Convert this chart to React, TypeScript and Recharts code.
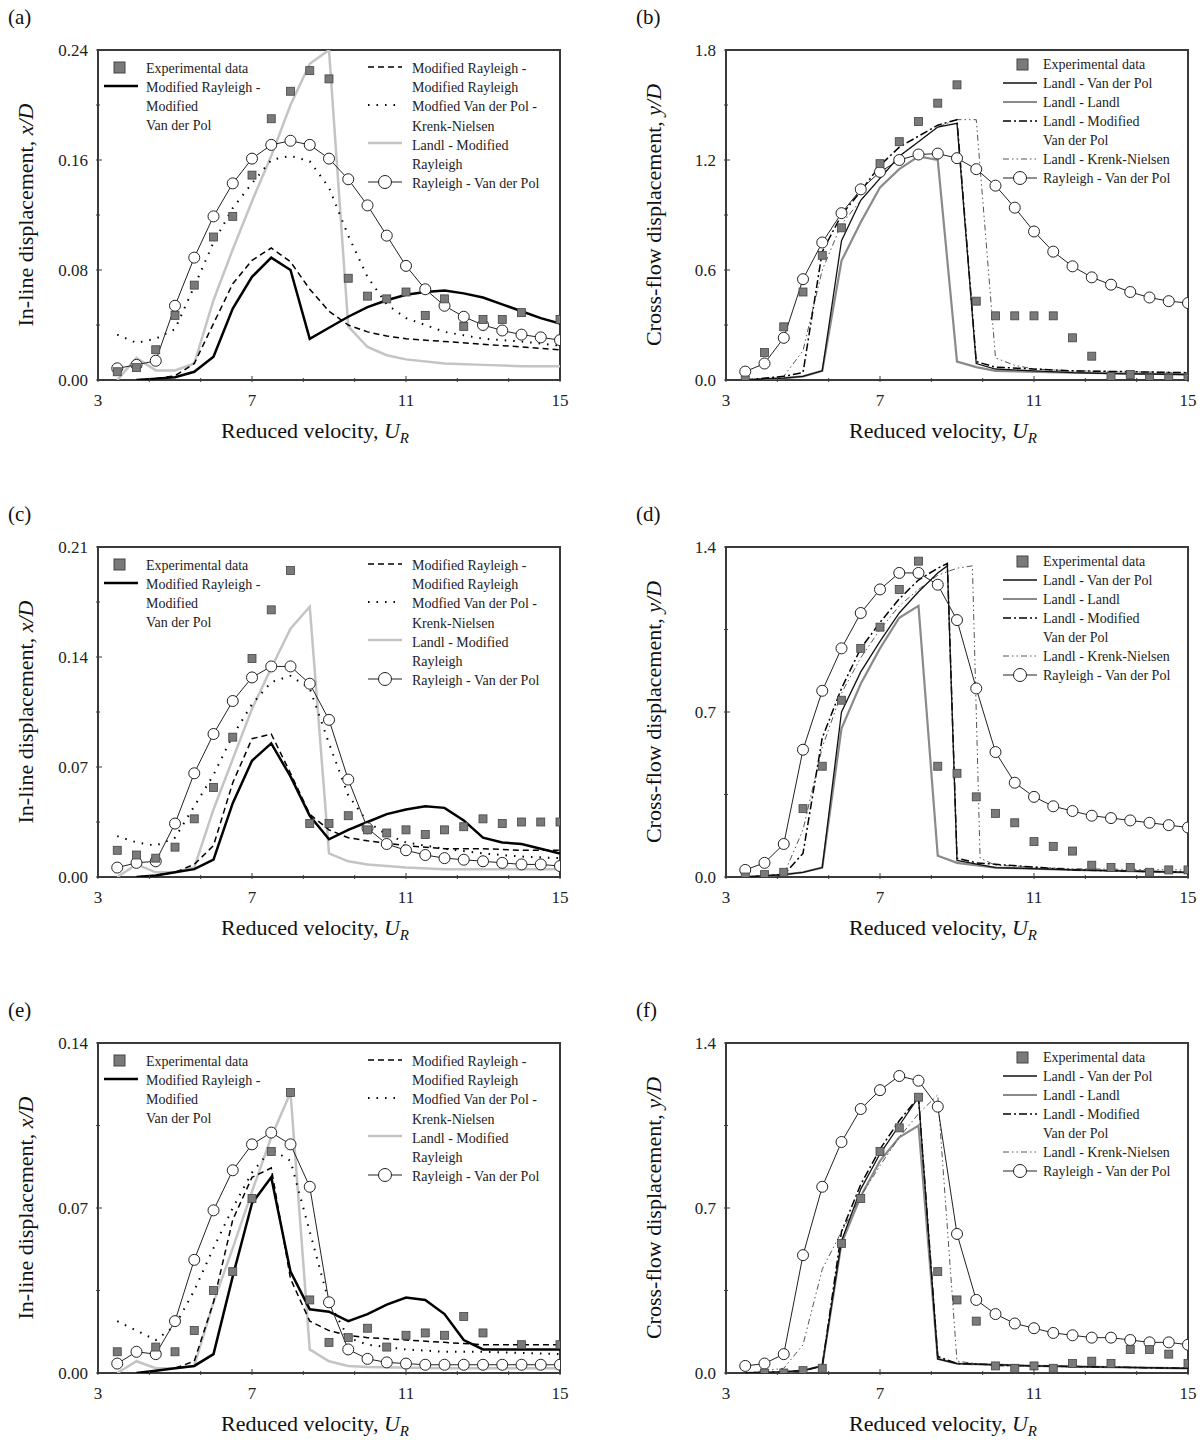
import React from "react";
import { ComposedChart, Line, Scatter, XAxis, YAxis } from "recharts";

type Pt = [number, number];

// ---------- panel (a) ----------
const aExp: Pt[] = [[3.5,0.006],[4,0.009],[4.5,0.022],[5,0.047],[5.5,0.069],[6,0.104],[6.5,0.119],[7,0.149],[7.5,0.19],[8,0.21],[8.5,0.225],[9,0.219],[9.5,0.074],[10,0.061],[10.5,0.059],[11,0.064],[11.5,0.047],[12,0.059],[12.5,0.039],[13,0.044],[13.5,0.044],[14,0.049],[15,0.044]];
const aMrMvdp: Pt[] = [[4,0],[4.5,0.001],[5,0.002],[5.5,0.006],[6,0.017],[6.5,0.052],[7,0.075],[7.5,0.089],[8,0.08],[8.5,0.03],[9,0.038],[9.5,0.046],[10,0.053],[10.5,0.058],[11,0.062],[11.5,0.064],[12,0.065],[12.5,0.063],[13,0.06],[13.5,0.055],[14,0.05],[14.5,0.045],[15,0.041]];
const aMrMr: Pt[] = [[4,0],[4.5,0.001],[5,0.003],[5.5,0.012],[6,0.041],[6.5,0.07],[7,0.087],[7.5,0.096],[8,0.086],[8.5,0.066],[9,0.05],[9.5,0.04],[10,0.035],[10.5,0.032],[11,0.03],[12,0.028],[13,0.026],[14,0.024],[15,0.022]];
const aMvKn: Pt[] = [[3.5,0.033],[4,0.027],[4.5,0.03],[5,0.037],[5.5,0.068],[6,0.1],[6.5,0.125],[7,0.143],[7.5,0.16],[8,0.163],[8.5,0.159],[9,0.14],[9.5,0.105],[10,0.075],[10.5,0.055],[11,0.045],[12,0.035],[13,0.03],[14,0.028],[15,0.025]];
const aLMr: Pt[] = [[3.5,0],[4,0.016],[4.5,0.007],[5,0.007],[5.5,0.012],[6,0.058],[6.5,0.095],[7,0.13],[7.5,0.163],[8,0.2],[8.5,0.23],[9,0.24],[9.5,0.039],[10,0.024],[10.5,0.018],[11,0.015],[12,0.012],[13,0.011],[14,0.01],[15,0.01]];
const aRVdp: Pt[] = [[3.5,0.0085],[4,0.011],[4.5,0.014],[5,0.054],[5.5,0.089],[6,0.119],[6.5,0.143],[7,0.161],[7.5,0.171],[8,0.174],[8.5,0.171],[9,0.161],[9.5,0.146],[10,0.127],[10.5,0.105],[11,0.083],[11.5,0.066],[12,0.054],[12.5,0.046],[13,0.04],[13.5,0.036],[14,0.033],[14.5,0.031],[15,0.029]];

// ---------- panel (c) ----------
const cExp: Pt[] = [[3.5,0.017],[4,0.014],[4.5,0.012],[5,0.019],[5.5,0.037],[6,0.057],[6.5,0.089],[7,0.139],[7.5,0.17],[8,0.195],[8.5,0.034],[9,0.034],[9.5,0.039],[10,0.03],[10.5,0.028],[11,0.03],[11.5,0.027],[12,0.03],[12.5,0.032],[13,0.037],[13.5,0.034],[14,0.035],[14.5,0.035],[15,0.035]];
const cMrMvdp: Pt[] = [[4,0],[4.5,0.001],[5,0.003],[5.5,0.005],[6,0.011],[6.5,0.047],[7,0.074],[7.5,0.085],[8,0.064],[8.5,0.039],[9,0.024],[9.5,0.03],[10,0.035],[10.5,0.04],[11,0.043],[11.5,0.045],[12,0.044],[12.5,0.036],[13,0.025],[13.5,0.022],[14,0.021],[14.5,0.018],[15,0.015]];
const cMrMr: Pt[] = [[4,0],[4.5,0.001],[5,0.003],[5.5,0.008],[6,0.02],[6.5,0.06],[7,0.088],[7.5,0.091],[8,0.066],[8.5,0.04],[9,0.03],[9.5,0.025],[10,0.023],[11,0.02],[12,0.018],[13,0.018],[14,0.017],[15,0.017]];
const cMvKn: Pt[] = [[3.5,0.026],[4,0.022],[4.5,0.02],[5,0.025],[5.5,0.045],[6,0.065],[6.5,0.09],[7,0.11],[7.5,0.124],[8,0.128],[8.5,0.12],[9,0.085],[9.5,0.052],[10,0.035],[10.5,0.027],[11,0.022],[12,0.018],[13,0.015],[14,0.013],[15,0.012]];
const cLMr: Pt[] = [[3.5,0],[4,0.008],[4.5,0.003],[5,0.003],[5.5,0.006],[6,0.043],[6.5,0.075],[7,0.107],[7.5,0.133],[8,0.158],[8.5,0.172],[9,0.015],[9.5,0.01],[10,0.008],[11,0.006],[12,0.005],[13,0.005],[15,0.005]];
const cRVdp: Pt[] = [[3.5,0.006],[4,0.009],[4.5,0.01],[5,0.034],[5.5,0.066],[6,0.091],[6.5,0.112],[7,0.127],[7.5,0.134],[8,0.134],[8.5,0.123],[9,0.1],[9.5,0.062],[10,0.031],[10.5,0.021],[11,0.017],[11.5,0.014],[12,0.012],[12.5,0.011],[13,0.01],[13.5,0.009],[14,0.008],[14.5,0.008],[15,0.007]];

// ---------- panel (e) ----------
const eExp: Pt[] = [[3.5,0.009],[4.5,0.011],[5,0.009],[5.5,0.018],[6,0.035],[6.5,0.043],[7,0.074],[7.5,0.094],[8,0.119],[8.5,0.031],[9,0.013],[9.5,0.015],[10,0.019],[10.5,0.011],[11,0.016],[11.5,0.017],[12,0.016],[12.5,0.024],[13,0.017],[14,0.012],[15,0.012]];
const eMrMvdp: Pt[] = [[4,0],[4.5,0.001],[5,0.002],[5.5,0.003],[6,0.008],[6.5,0.041],[7,0.072],[7.5,0.083],[8,0.043],[8.5,0.027],[9,0.026],[9.5,0.022],[10,0.025],[10.5,0.029],[11,0.032],[11.5,0.031],[12,0.025],[12.5,0.014],[13,0.01],[14,0.01],[15,0.01]];
const eMrMr: Pt[] = [[4.5,0.001],[5,0.002],[5.5,0.005],[6,0.03],[6.5,0.065],[7,0.083],[7.5,0.087],[8,0.04],[8.5,0.022],[9,0.018],[9.5,0.016],[10,0.015],[11,0.014],[12,0.013],[13,0.012],[15,0.012]];
const eMvKn: Pt[] = [[3.5,0.022],[4,0.018],[4.5,0.014],[5,0.02],[5.5,0.035],[6,0.053],[6.5,0.07],[7,0.085],[7.5,0.095],[8,0.09],[8.5,0.06],[9,0.03],[9.5,0.015],[10,0.012],[11,0.01],[12,0.009],[13,0.009],[15,0.008]];
const eLMr: Pt[] = [[3.5,0],[4,0.005],[4.5,0.002],[5,0.002],[5.5,0.003],[6,0.03],[6.5,0.053],[7,0.077],[7.5,0.1],[8,0.119],[8.5,0.01],[9,0.005],[9.5,0.003],[10,0.0025],[12,0.002],[15,0.002]];
const eRVdp: Pt[] = [[3.5,0.004],[4,0.009],[4.5,0.008],[5,0.022],[5.5,0.048],[6,0.069],[6.5,0.086],[7,0.097],[7.5,0.102],[8,0.097],[8.5,0.079],[9,0.03],[9.5,0.01],[10,0.006],[10.5,0.0045],[11,0.004],[11.5,0.0035],[12,0.0035],[12.5,0.0035],[13,0.0035],[13.5,0.0035],[14,0.0035],[14.5,0.0035],[15,0.0035]];

// ---------- panel (b) ----------
const bExp: Pt[] = [[3.5,0],[4,0.15],[4.5,0.29],[5,0.48],[5.5,0.68],[6,0.83],[7,1.18],[7.5,1.3],[8,1.41],[8.5,1.51],[9,1.61],[9.5,0.43],[10,0.35],[10.5,0.35],[11,0.35],[11.5,0.35],[12,0.23],[12.5,0.13],[13,0.02],[13.5,0.03],[14,0.01],[14.5,0.01],[15,0.01]];
const bLVdp: Pt[] = [[3.5,0],[4.5,0.01],[5,0.02],[5.5,0.05],[6,0.76],[6.5,0.98],[7,1.1],[7.5,1.22],[8,1.3],[8.5,1.38],[9,1.4],[9.5,0.09],[10,0.06],[11,0.05],[12,0.04],[13,0.035],[15,0.03]];
const bLL: Pt[] = [[3.5,0],[4.5,0.01],[5,0.02],[5.5,0.05],[6,0.65],[6.5,0.86],[7,1.05],[7.5,1.15],[8,1.22],[8.5,1.2],[9,0.1],[9.5,0.07],[10,0.05],[12,0.04],[15,0.03]];
const bLMvdp: Pt[] = [[3.5,0],[4.5,0.02],[5,0.04],[5.5,0.7],[6,0.9],[6.5,1.03],[7,1.17],[7.5,1.27],[8,1.33],[8.5,1.39],[9,1.42],[9.5,0.1],[10,0.07],[12,0.05],[15,0.04]];
const bLKn: Pt[] = [[3.5,0],[4.5,0.02],[5,0.16],[5.5,0.6],[6,0.85],[6.5,0.98],[7,1.1],[7.5,1.22],[8,1.3],[8.5,1.38],[9,1.42],[9.5,1.42],[10,0.12],[10.5,0.08],[11,0.06],[12,0.05],[15,0.04]];
const bRVdp: Pt[] = [[3.5,0.046],[4,0.09],[4.5,0.23],[5,0.55],[5.5,0.75],[6,0.91],[6.5,1.04],[7,1.135],[7.5,1.2],[8,1.23],[8.5,1.235],[9,1.21],[9.5,1.15],[10,1.06],[10.5,0.94],[11,0.81],[11.5,0.7],[12,0.62],[12.5,0.56],[13,0.52],[13.5,0.48],[14,0.45],[14.5,0.43],[15,0.42]];

// ---------- panel (d) ----------
const dExp: Pt[] = [[3.5,0],[4,0.01],[4.5,0.02],[5,0.29],[5.5,0.47],[6,0.75],[6.5,0.97],[7,1.06],[7.5,1.22],[8,1.34],[8.5,0.47],[9,0.44],[9.5,0.34],[10,0.27],[10.5,0.23],[11,0.15],[11.5,0.13],[12,0.11],[12.5,0.05],[13,0.04],[13.5,0.04],[14,0.02],[14.5,0.03],[15,0.03]];
const dLVdp: Pt[] = [[3.5,0],[4.5,0.01],[5,0.02],[5.5,0.04],[6,0.7],[6.5,0.87],[7,1.0],[7.5,1.12],[8,1.21],[8.5,1.29],[8.75,1.32],[9,0.07],[10,0.04],[12,0.03],[15,0.02]];
const dLL: Pt[] = [[3.5,0],[4.5,0.01],[5,0.02],[5.5,0.04],[6,0.63],[6.5,0.82],[7,0.97],[7.5,1.1],[8,1.15],[8.5,0.09],[9,0.06],[10,0.04],[12,0.03],[15,0.02]];
const dLMvdp: Pt[] = [[3.5,0],[4.5,0.01],[5,0.1],[5.5,0.59],[6,0.8],[6.5,0.97],[7,1.08],[7.5,1.18],[8,1.26],[8.5,1.31],[8.75,1.33],[9,0.08],[9.5,0.06],[12,0.03],[15,0.02]];
const dLKn: Pt[] = [[3.5,0],[4.5,0.01],[5,0.2],[5.5,0.55],[6,0.78],[6.5,0.93],[7,1.05],[7.5,1.15],[8,1.22],[8.5,1.28],[9,1.31],[9.4,1.32],[9.6,0.08],[10,0.05],[12,0.035],[15,0.03]];
const dRVdp: Pt[] = [[3.5,0.03],[4,0.06],[4.5,0.14],[5,0.54],[5.5,0.79],[6,0.97],[6.5,1.12],[7,1.22],[7.5,1.29],[8,1.29],[8.5,1.24],[9,1.09],[9.5,0.8],[10,0.53],[10.5,0.4],[11,0.34],[11.5,0.3],[12,0.28],[12.5,0.26],[13,0.25],[13.5,0.24],[14,0.23],[14.5,0.22],[15,0.21]];

// ---------- panel (f) ----------
const fExp: Pt[] = [[4,0],[4.5,0],[5,0.01],[5.5,0.02],[6,0.55],[6.5,0.74],[7,0.94],[7.5,1.04],[8,1.17],[8.5,0.43],[9,0.31],[9.5,0.22],[10,0.03],[10.5,0.02],[11,0.03],[11.5,0.02],[12,0.04],[12.5,0.05],[13,0.04],[13.5,0.1],[14,0.1],[14.5,0.08],[15,0.04]];
const fLVdp: Pt[] = [[3.5,0],[4.5,0.005],[5,0.01],[5.5,0.03],[6,0.56],[6.5,0.78],[7,0.93],[7.5,1.05],[8,1.17],[8.5,0.06],[9,0.04],[11,0.03],[15,0.02]];
const fLL: Pt[] = [[3.5,0],[4.5,0.005],[5,0.01],[5.5,0.03],[6,0.55],[6.5,0.75],[7,0.9],[7.5,1.0],[8,1.05],[8.5,0.06],[9,0.04],[11,0.03],[15,0.02]];
const fLMvdp: Pt[] = [[3.5,0],[4.5,0.005],[5,0.01],[5.5,0.03],[6,0.6],[6.5,0.8],[7,0.95],[7.5,1.07],[8,1.17],[8.5,0.07],[9,0.04],[11,0.03],[15,0.02]];
const fLKn: Pt[] = [[3.5,0],[4.5,0.02],[5,0.12],[5.5,0.44],[6,0.6],[6.5,0.75],[7,0.88],[7.5,1.0],[8,1.1],[8.5,1.18],[9,0.05],[10,0.03],[15,0.02]];
const fRVdp: Pt[] = [[3.5,0.03],[4,0.04],[4.5,0.08],[5,0.5],[5.5,0.79],[6,0.98],[6.5,1.12],[7,1.2],[7.5,1.26],[8,1.24],[8.5,1.13],[9,0.59],[9.5,0.31],[10,0.25],[10.5,0.21],[11,0.19],[11.5,0.17],[12,0.16],[12.5,0.15],[13,0.15],[13.5,0.14],[14,0.13],[14.5,0.13],[15,0.12]];

const xTicks = [3, 4.333, 5.667, 7, 8.333, 9.667, 11, 12.333, 13.667, 15];
const xMajor = [3, 7, 11, 15];

const leftLegend = ["Modified Rayleigh -", "Modified Rayleigh", "Modfied Van der Pol -", "Krenk-Nielsen", "Landl - Modified", "Rayleigh", "Rayleigh - Van der Pol"];
const rightLegend = ["Experimental data", "Landl - Van der Pol", "Landl - Landl", "Landl - Modified", "Van der Pol", "Landl - Krenk-Nielsen", "Rayleigh - Van der Pol"];

const FONT = "'Liberation Serif', 'DejaVu Serif', serif";
const pts = (a: Pt[]) => a.map(([u, v]) => ({ u, v }));
const FRAME = "#3a3a3a";

const Square = (p: any) => (
  <rect x={p.cx - 4} y={p.cy - 4} width={8} height={8} fill="#7a7a7a" stroke="#444" strokeWidth={0.8} />
);
const OpenDot = (p: any) =>
  p.cx == null ? <g key={p.index} /> : <circle key={p.index} cx={p.cx} cy={p.cy} r={5.5} fill="#fff" stroke="#222" strokeWidth={1} />;

function XTick(p: any) {
  const v = p.payload.value;
  const major = xMajor.some((m) => Math.abs(m - v) < 0.01);
  return (
    <g>
      <line x1={p.x} x2={p.x} y1={p.y} y2={p.y - (major ? 6 : 4)} stroke={FRAME} />
      {major && (
        <text x={p.x} y={p.y + 24} textAnchor="middle" fontSize={17} fontFamily={FONT} fill="#222">
          {v}
        </text>
      )}
    </g>
  );
}

function makeYTick(major: number[], digits: number) {
  return (p: any) => {
    const v = p.payload.value;
    const isMajor = major.some((m) => Math.abs(m - v) < 1e-6);
    return (
      <g>
        <line x1={p.x} x2={p.x + (isMajor ? 6 : 4)} y1={p.y} y2={p.y} stroke={FRAME} />
        {isMajor && (
          <text x={p.x - 8} y={p.y + 6} textAnchor="end" fontSize={17} fontFamily={FONT} fill="#222">
            {v.toFixed(digits)}
          </text>
        )}
      </g>
    );
  };
}

type Series = { data: Pt[]; stroke: string; width: number; dash?: string; dots?: boolean };

function Panel(props: {
  left: number; top: number; max: number; major: number[]; minor: number[]; digits: number;
  exp: Pt[]; series: Series[];
}) {
  const YT = makeYTick(props.major, props.digits);
  return (
    <div style={{ position: "absolute", left: props.left, top: props.top, width: 580, height: 380 }}>
      {/* plot frame */}
      <div style={{ position: "absolute", left: 97, top: 19, width: 464, height: 332, boxSizing: "border-box",
        border: `2px solid ${FRAME}` }} />
      <div style={{ position: "absolute", left: 0, top: 0 }}>
        <ComposedChart width={580} height={380} margin={{ top: 20, right: 20, bottom: 0, left: 48 }}>
          <XAxis dataKey="u" type="number" domain={[3, 15]} ticks={xTicks} allowDataOverflow
            axisLine={false} tickLine={false} tickSize={0} height={30} tick={<XTick />} interval={0} />
          <YAxis dataKey="v" type="number" domain={[0, props.max]} ticks={props.minor} allowDataOverflow width={50}
            axisLine={false} tickLine={false} tickSize={0} tick={<YT />} interval={0} />
          {props.series.map((s, i) => (
            <Line key={i} data={pts(s.data)} dataKey="v" type="linear" stroke={s.stroke} strokeWidth={s.width}
              strokeDasharray={s.dash} dot={s.dots ? <OpenDot /> : false} activeDot={false} isAnimationActive={false} />
          ))}
          <Scatter data={pts(props.exp)} dataKey="v" shape={<Square />} isAnimationActive={false} />
        </ComposedChart>
      </div>
    </div>
  );
}

const S_BOLD = { stroke: "#000", width: 2.5 };
const S_DASH = { stroke: "#000", width: 1.5, dash: "6 4" };
const S_DOT = { stroke: "#000", width: 2, dash: "1.5 7" };
const S_GREY = { stroke: "#c4c4c4", width: 2.5 };
const S_CIRC = { stroke: "#222", width: 1, dots: true };
const R_VDP = { stroke: "#111", width: 1.3 };
const R_LL = { stroke: "#8a8a8a", width: 2.2 };
const R_MV = { stroke: "#000", width: 1.5, dash: "8 3 2 3" };
const R_KN = { stroke: "#555", width: 1, dash: "6 3 1.5 3 1.5 3" };

function LeftLegend({ left, top }: { left: number; top: number }) {
  const t = { fontSize: 14, fontFamily: FONT, fill: "#222" };
  return (
    <svg style={{ position: "absolute", left, top }} width={470} height={140}>
      <rect x={16} y={6} width={11} height={11} fill="#7a7a7a" stroke="#444" />
      <text x={48} y={17} {...t}>Experimental data</text>
      <line x1={6} x2={40} y1={30} y2={30} stroke="#000" strokeWidth={2.5} />
      {["Modified Rayleigh -", "Modified", "Van der Pol"].map((s, i) => (
        <text key={s} x={48} y={36 + i * 19} {...t}>{s}</text>
      ))}
      <line x1={270} x2={304} y1={11} y2={11} stroke="#000" strokeWidth={1.5} strokeDasharray="6 4" />
      <line x1={270} x2={304} y1={49} y2={49} stroke="#000" strokeWidth={2} strokeDasharray="1.5 7" />
      <line x1={270} x2={304} y1={87} y2={87} stroke="#c4c4c4" strokeWidth={2.5} />
      <line x1={270} x2={304} y1={126} y2={126} stroke="#222" strokeWidth={1} />
      <circle cx={287} cy={126} r={6.5} fill="#fff" stroke="#222" />
      {leftLegend.map((s, i) => (
        <text key={i} x={314} y={17 + i * 19.2} {...t}>{s}</text>
      ))}
    </svg>
  );
}

function RightLegend({ left, top }: { left: number; top: number }) {
  const t = { fontSize: 14, fontFamily: FONT, fill: "#222" };
  const samples: (Series | null)[] = [null, R_VDP, R_LL, R_MV, null, R_KN, S_CIRC];
  return (
    <svg style={{ position: "absolute", left, top }} width={200} height={140}>
      <rect x={14} y={3} width={11} height={11} fill="#7a7a7a" stroke="#444" />
      {samples.map((s, i) =>
        s ? <line key={i} x1={0} x2={34} y1={8 + i * 19} y2={8 + i * 19} stroke={s.stroke} strokeWidth={s.width} strokeDasharray={s.dash} /> : null
      )}
      <circle cx={17} cy={122} r={6.5} fill="#fff" stroke="#222" />
      {rightLegend.map((s, i) => (
        <text key={i} x={40} y={13 + i * 19} {...t}>{s}</text>
      ))}
    </svg>
  );
}

function Labels({ left, top, tag, yl, yv }: { left: number; top: number; tag: string; yl: string; yv: string }) {
  const big = { position: "absolute" as const, fontFamily: FONT, fontSize: 22, color: "#111", whiteSpace: "nowrap" as const };
  return (
    <>
      <div style={{ ...big, left: left - 90, top: top - 45, fontSize: 21 }}>{tag}</div>
      <div style={{ ...big, left: left + 123, top: top + 368 }}>
        Reduced velocity, <i>U</i><sub style={{ fontSize: 15 }}><i>R</i></sub>
      </div>
      <div style={{ ...big, left: left - 72, top: top + 165, transform: "translate(-50%, -50%) rotate(-90deg)" }}>
        {yl}, <i>{yv}</i>
      </div>
    </>
  );
}

export default function App() {
  const rows = [30, 527, 1023];
  const leftTicks = [
    { max: 0.24, major: [0, 0.08, 0.16, 0.24], minor: [0, 0.04, 0.08, 0.12, 0.16, 0.2, 0.24] },
    { max: 0.21, major: [0, 0.07, 0.14, 0.21], minor: [0, 0.035, 0.07, 0.105, 0.14, 0.175, 0.21] },
    { max: 0.14, major: [0, 0.07, 0.14], minor: [0, 0.035, 0.07, 0.105, 0.14] },
  ];
  const rightTicks = [
    { max: 1.8, major: [0, 0.6, 1.2, 1.8], minor: [0, 0.3, 0.6, 0.9, 1.2, 1.5, 1.8] },
    { max: 1.4, major: [0, 0.7, 1.4], minor: [0, 0.35, 0.7, 1.05, 1.4] },
    { max: 1.4, major: [0, 0.7, 1.4], minor: [0, 0.35, 0.7, 1.05, 1.4] },
  ];
  const leftData = [
    [aExp, aMrMvdp, aMrMr, aMvKn, aLMr, aRVdp],
    [cExp, cMrMvdp, cMrMr, cMvKn, cLMr, cRVdp],
    [eExp, eMrMvdp, eMrMr, eMvKn, eLMr, eRVdp],
  ];
  const rightData = [
    [bExp, bLVdp, bLL, bLMvdp, bLKn, bRVdp],
    [dExp, dLVdp, dLL, dLMvdp, dLKn, dRVdp],
    [fExp, fLVdp, fLL, fLMvdp, fLKn, fRVdp],
  ];
  const tagsL = ["(a)", "(c)", "(e)"];
  const tagsR = ["(b)", "(d)", "(f)"];
  return (
    <div style={{ position: "absolute", left: 0, top: 0, width: 1204, height: 1447, background: "#fff" }}>
      {rows.map((top, r) => {
        const [e, m1, m2, m3, m4, m5] = leftData[r];
        const [re, r1, r2, r3, r4, r5] = rightData[r];
        return (
          <React.Fragment key={r}>
            <Panel left={0} top={top} digits={2} {...leftTicks[r]} exp={e}
              series={[
                { ...S_GREY, data: m4 }, { ...S_DOT, data: m3 }, { ...S_DASH, data: m2 },
                { ...S_BOLD, data: m1 }, { ...S_CIRC, data: m5 },
              ]} />
            <Panel left={628} top={top} digits={1} {...rightTicks[r]} exp={re}
              series={[
                { ...R_LL, data: r2 }, { ...R_KN, data: r4 }, { ...R_MV, data: r3 },
                { ...R_VDP, data: r1 }, { ...S_CIRC, data: r5 },
              ]} />
            <LeftLegend left={98} top={top + 26} />
            <RightLegend left={1003} top={top + 26} />
            <Labels left={98} top={top + 20} tag={tagsL[r]} yl="In-line displacement" yv="x/D" />
            <Labels left={726} top={top + 20} tag={tagsR[r]} yl="Cross-flow displacement" yv="y/D" />
          </React.Fragment>
        );
      })}
    </div>
  );
}
